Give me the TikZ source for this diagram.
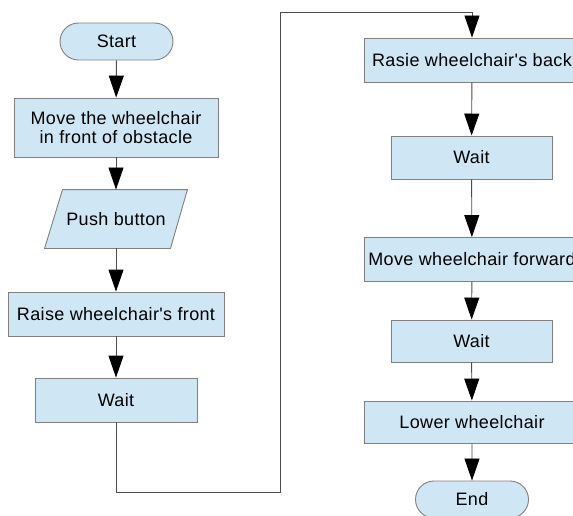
\documentclass[tikz,border=0pt]{standalone}
\usepackage{fontspec}
\newfontfamily\chartfont{Liberation Sans}[LetterSpace=2]
\usetikzlibrary{arrows.meta,shapes.misc,backgrounds,calc}
\definecolor{boxfill}{HTML}{CFE7F5}
\definecolor{boxborder}{HTML}{808080}
\definecolor{linegray}{HTML}{4D4D4D}
\tikzset{
  chartbox/.style={draw=boxborder, fill=boxfill, line width=0.9pt, minimum height=44pt,
    align=center, inner sep=0pt, text=black, font=\chartfont\fontsize{18}{19}\selectfont},
  termbox/.style={chartbox, rounded rectangle, minimum width=113pt, minimum height=37pt},
  flow/.style={draw=linegray, line width=0.9pt, -{Triangle[length=22pt,width=15pt,color=black]}}
}
\begin{document}
\begin{tikzpicture}[x=1pt,y=-1pt]
\path[use as bounding box, clip] (0,0) rectangle (573,516);
% left column
\node[termbox] (start) at (116.5,41.5) {Start};
\node[chartbox, minimum width=204pt, minimum height=59pt] (move) at (116,127.5) {Move the wheelchair\\in front of obstacle};
\node[chartbox, draw=none, fill=none, minimum width=142pt, minimum height=58pt] (push) at (116,219) {Push button};
\begin{pgfonlayer}{background}
\draw[draw=boxborder, fill=boxfill, line width=0.9pt]
  ($(push.north west)+(18,0)$) -- (push.north east) -- ($(push.south east)-(17,0)$) -- (push.south west) -- cycle;
\end{pgfonlayer}
\node[chartbox, minimum width=216pt] (front) at (116,314) {Raise wheelchair's front};
\node[chartbox, minimum width=162pt] (waitA) at (116,400) {Wait};
% right column
\node[chartbox, minimum width=216pt] (back) at (472,60) {Rasie wheelchair's back};
\node[chartbox, minimum width=161pt, minimum height=43pt] (waitB) at (471.5,157.5) {Wait};
\node[chartbox, minimum width=216pt] (forward) at (472,259.5) {Move wheelchair forward};
\node[chartbox, minimum width=161pt, minimum height=42pt] (waitC) at (471.5,341) {Wait};
\node[chartbox, minimum width=216pt, minimum height=42pt] (lower) at (472,422) {Lower wheelchair};
\node[termbox] (end) at (472,499.5) {End};
% connectors
\draw[flow] (start) -- (move);
\draw[flow] (move) -- (push);
\draw[flow] (push) -- (front);
\draw[flow] (front) -- (waitA);
\coordinate (bottomturn) at (280,492);
\coordinate (topline) at (0,12);
\coordinate (topturn) at (back.north |- topline);
\draw[flow] (waitA.south) |- (bottomturn) |- (topturn) -- (back.north);
\draw[flow] (back) -- (waitB);
\draw[flow] (waitB) -- (forward);
\draw[flow] (forward) -- (waitC);
\draw[flow] (waitC) -- (lower);
\draw[flow] (lower) -- (end);
\end{tikzpicture}
\end{document}
